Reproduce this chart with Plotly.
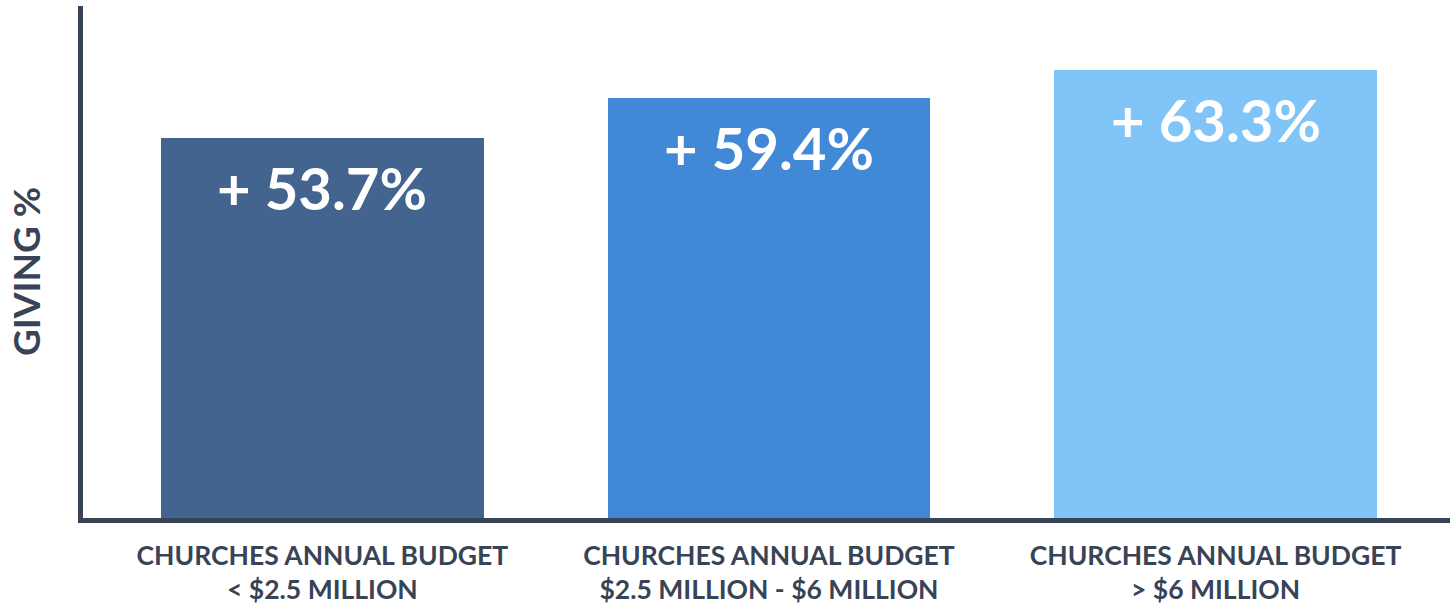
import plotly.graph_objects as go

categories = ["CHURCHES ANNUAL BUDGET<br>< $2.5 MILLION",
              "CHURCHES ANNUAL BUDGET<br>$2.5 MILLION - $6 MILLION",
              "CHURCHES ANNUAL BUDGET<br>> $6 MILLION"]
values = [53.7, 59.4, 63.3]
colors = ["#42648e", "#4189d7", "#80c4f8"]
positions = [0, 1, 2]

W, H = 1455, 604
ml, mr, mt, mb = 83, 5, 6, 86
pw = W - ml - mr
ph = H - mt - mb

fig = go.Figure()
fig.add_trace(go.Bar(
    x=positions, y=values, width=0.723,
    marker=dict(color=colors, line=dict(width=0)),
    hoverinfo="skip",
))

for xp, v in zip(positions, values):
    fig.add_annotation(
        x=xp, y=v, xref="x", yref="y",
        text=f"+ {v}%", showarrow=False,
        yanchor="top", yshift=-13,
        font=dict(family="Lato", size=58, color="white", weight="bold"),
    )

fig.add_annotation(
    x=(25 - ml) / pw, y=(H - mb - 272) / ph, xref="paper", yref="paper",
    text="GIVING %", textangle=-90, showarrow=False,
    xanchor="center", yanchor="middle",
    font=dict(family="Lato", size=37, color="#384356", weight="bold"),
)

fig.update_layout(
    width=W, height=H,
    margin=dict(l=ml, r=mr, t=mt, b=mb),
    plot_bgcolor="white", paper_bgcolor="white",
    showlegend=False,
    bargap=0,
    font=dict(family="Lato", color="#384356"),
    xaxis=dict(
        range=[-0.536, 2.525], tickmode="array", tickvals=positions,
        ticktext=categories, showgrid=False, zeroline=False,
        showline=True, linewidth=5, linecolor="#384356",
        ticks="", ticklabelstandoff=10, automargin=False,
        tickfont=dict(family="Lato", size=26.5, color="#384356", weight="bold"),
        fixedrange=True,
    ),
    yaxis=dict(
        range=[0, 72.4], showgrid=False, zeroline=False,
        showline=True, linewidth=5, linecolor="#384356",
        showticklabels=False, ticks="", fixedrange=True, automargin=False,
    ),
)

fig.write_html("out.html", config={"displayModeBar": False})
